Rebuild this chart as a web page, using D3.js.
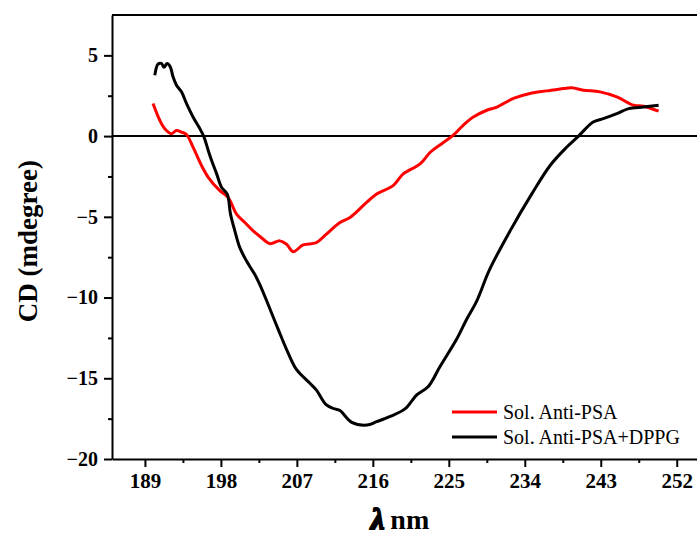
<!DOCTYPE html>
<html>
<head>
<meta charset="utf-8">
<script src="https://cdn.jsdelivr.net/npm/d3@7"></script>
<style>
  body { margin: 0; background: #fff; }
  .axis path, .axis line { stroke: #000; stroke-width: 2px; }
</style>
</head>
<body>
<div id="chart-area"></div>
<script>
// Wavelength (nm) and CD (mdegree)
var wlSol = [189.96, 190.76, 191.35, 192.14, 192.74, 193.3, 193.92, 194.7, 195.7, 196.5, 197.87, 198.86,
    199.85, 200.84, 201.82, 202.6, 203.8, 204.98, 205.78, 206.56, 207.75, 209.3, 210.5, 212.1, 213.3,
    215.26, 216.45, 218.4, 219.6, 221.6, 222.8, 224.16, 225.5, 226.7, 227.9, 229.5, 230.7, 232.65,
    234.6, 236.6, 238.6, 239.57, 240.95, 242.9, 244.9, 246.9, 248.1, 249.85];
var cdSol = [2.02, 0.98, 0.46, 0.15, 0.35, 0.25, 0.1, -0.68, -1.82, -2.55, -3.38, -3.8,
    -4.83, -5.35, -5.87, -6.2, -6.66, -6.49, -6.7, -7.16, -6.74, -6.6, -6.07, -5.35, -5.04,
    -4.11, -3.58, -3.07, -2.34, -1.72, -1.0, -0.47, 0.04, 0.67, 1.18, 1.6, 1.8, 2.33,
    2.64, 2.8, 2.95, 2.99, 2.84, 2.74, 2.43, 1.91, 1.85, 1.54];

var wlDppg = [190.17, 190.55, 190.96, 191.27, 191.62, 192.0, 192.33, 192.74, 193.33, 193.92, 194.7, 195.4,
    196.0, 196.5, 196.9, 197.5, 198.07, 198.74, 199.14, 199.65, 200.24, 201.04, 202.0, 202.6, 203.6,
    204.8, 205.97, 206.97, 208.54, 209.3, 210.5, 211.5, 212.1, 213.5, 215.3, 216.45, 218.0, 219.8,
    221.2, 222.57, 223.96, 225.9, 227.1, 228.3, 229.8, 232.26, 234.83, 237.0, 238.98, 240.36, 242.1,
    243.3, 244.9, 246.3, 248.1, 249.85];
var cdDppg = [3.77, 4.46, 4.5, 4.26, 4.5, 4.3, 3.67, 3.15, 2.74, 2.02, 1.18, 0.56,
    -0.06, -0.89, -1.51, -2.34, -3.17, -3.58, -4.83, -5.87, -6.91, -7.74, -8.56, -9.18, -10.43,
    -11.99, -13.44, -14.47, -15.31, -15.72, -16.65, -16.9, -17.0, -17.73, -17.9, -17.69, -17.38, -16.9,
    -16.03, -15.51, -14.27, -12.6, -11.36, -10.22, -8.3, -5.87, -3.58, -1.82, -0.68, 0.0, 0.87,
    1.08, 1.39, 1.7, 1.8, 1.91];

var xTicks = [189, 198, 207, 216, 225, 234, 243, 252];
var yTicks = [5, 0, -5, -10, -15, -20];
var seriesNames = ["Sol. Anti-PSA", "Sol. Anti-PSA+DPPG"];
var seriesColors = ["#ff0000", "#000000"];

var serif = "'Liberation Serif', 'Times New Roman', serif";

var margin = { left: 112, right: 0, top: 15, bottom: 79 },
    width = 697 - margin.left - margin.right,
    height = 538 - margin.top - margin.bottom;

var svg = d3.select("#chart-area").append("svg")
    .attr("width", 697)
    .attr("height", 538);

var g = svg.append("g")
    .attr("transform", "translate(" + margin.left + "," + margin.top + ")");

// Scales
var x_scale = d3.scaleLinear().domain([185.1, 254.4]).range([0, width]);
var y_scale = d3.scaleLinear().domain([-20, 7.5]).range([height, 0]);

// Minor ticks
g.append("g")
    .attr("class", "axis")
    .attr("transform", "translate(0," + height + ")")
    .call(d3.axisBottom(x_scale).tickValues(xTicks.map(function(d) { return d + 4.5; }))
        .tickSize(4).tickFormat(""))
    .select(".domain").remove();
g.append("g")
    .attr("class", "axis")
    .call(d3.axisLeft(y_scale).tickValues(yTicks.slice(1).map(function(d) { return d + 2.5; }))
        .tickSize(4).tickFormat(""))
    .select(".domain").remove();

// Major axes
var xAxis = g.append("g")
    .attr("class", "axis")
    .attr("font-family", serif)
    .call(d3.axisBottom(x_scale).tickValues(xTicks).tickSize(8).tickSizeOuter(0).tickPadding(6))
    .attr("transform", "translate(0," + height + ")")
    .attr("font-family", serif)
    .attr("font-size", 21)
    .attr("font-weight", "bold");
xAxis.selectAll("text").attr("fill", "#000");

var yAxis = g.append("g")
    .attr("class", "axis")
    .call(d3.axisLeft(y_scale).tickValues(yTicks).tickSize(8).tickSizeOuter(0).tickPadding(6))
    .attr("font-family", serif)
    .attr("font-size", 20)
    .attr("font-weight", "bold");
yAxis.selectAll("text").attr("fill", "#000");

// Top border
g.append("line")
    .attr("x1", 0).attr("x2", width)
    .attr("y1", 0).attr("y2", 0)
    .attr("stroke", "#000").attr("stroke-width", 2);

// Zero line
g.append("line")
    .attr("x1", 0).attr("x2", width)
    .attr("y1", y_scale(0)).attr("y2", y_scale(0))
    .attr("stroke", "#000").attr("stroke-width", 2);

// Axis labels
svg.append("text")
    .attr("transform", "translate(37," + (margin.top + y_scale(-6.5)) + ") rotate(-90)")
    .attr("text-anchor", "middle")
    .style("font-family", serif)
    .style("font-weight", "bold")
    .style("font-size", "27px")
    .text("CD (mdegree)");

var xLabel = svg.append("text")
    .attr("x", 371)
    .attr("y", 529)
    .style("font-family", serif)
    .style("font-weight", "bold")
    .style("font-size", "28px");
xLabel.append("tspan")
    .style("font-style", "italic")
    .style("font-size", "30px")
    .attr("stroke", "#000")
    .attr("stroke-width", 2)
    .text("λ");
xLabel.append("tspan").attr("dx", 6).text("nm");

// Lines
var line = d3.line()
    .curve(d3.curveCatmullRom)
    .x(function(d) { return x_scale(d[0]); })
    .y(function(d) { return y_scale(d[1]); });

var series = [d3.zip(wlSol, cdSol), d3.zip(wlDppg, cdDppg)];
series.forEach(function(s, i) {
    g.append("path")
        .attr("fill", "none")
        .attr("stroke", seriesColors[i])
        .attr("stroke-width", 3)
        .attr("stroke-linejoin", "round")
        .attr("d", line(s));
});

// Legend
var legend = svg.append("g")
    .attr("transform", "translate(452,412)");
seriesNames.forEach(function(name, i) {
    legend.append("line")
        .attr("x1", 0).attr("x2", 45)
        .attr("y1", i * 25).attr("y2", i * 25)
        .attr("stroke", seriesColors[i])
        .attr("stroke-width", 3);
    legend.append("text")
        .attr("x", 51)
        .attr("y", i * 25 + 7)
        .style("font-family", serif)
        .style("font-size", "20px")
        .text(name);
});
</script>
</body>
</html>
